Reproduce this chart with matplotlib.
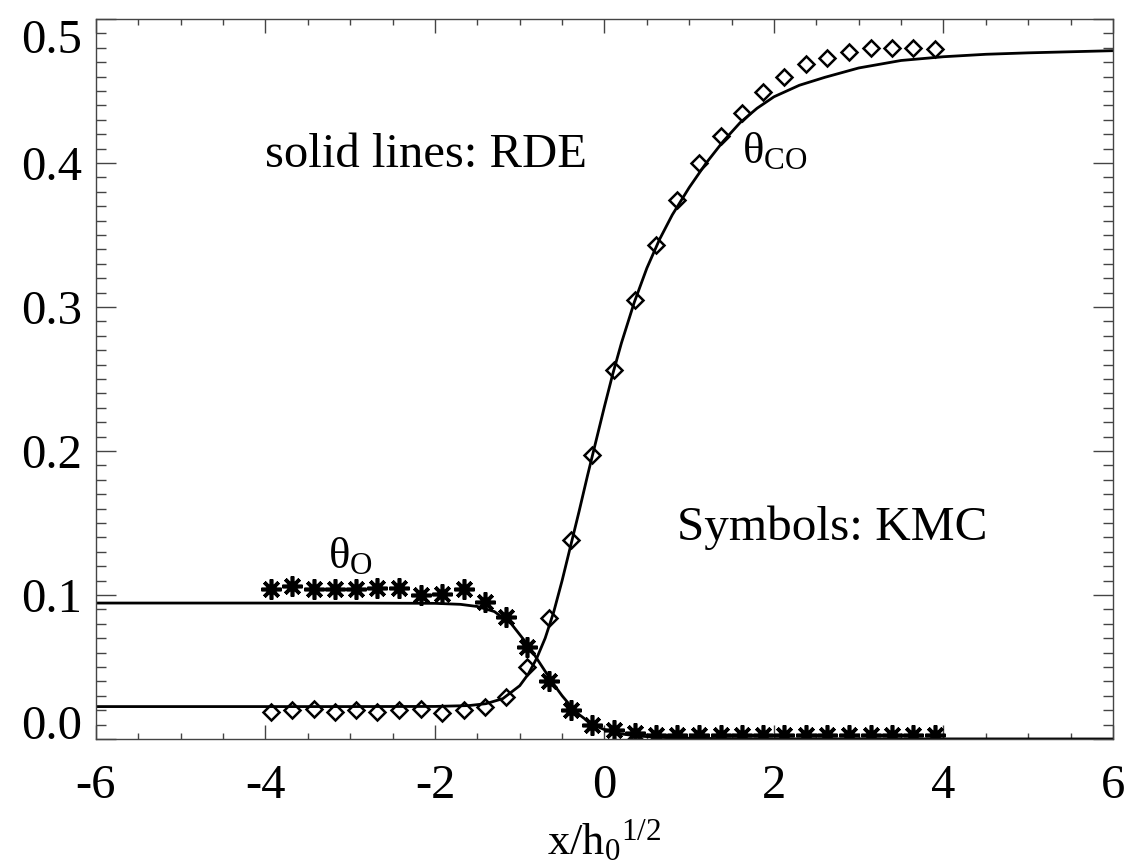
import matplotlib
matplotlib.use('Agg')
import matplotlib.pyplot as plt
from matplotlib.ticker import MultipleLocator

plt.rcParams['font.family'] = ['Liberation Serif', 'DejaVu Serif']
plt.rcParams['mathtext.fontset'] = 'custom'
plt.rcParams['mathtext.rm'] = 'Liberation Serif'
plt.rcParams['mathtext.it'] = 'Liberation Serif'

# KMC symbols
x_kmc = [-3.94, -3.69, -3.43, -3.18, -2.93, -2.68, -2.42, -2.17, -1.92, -1.66,
         -1.41, -1.16, -0.91, -0.65, -0.40, -0.15, 0.11, 0.36, 0.61, 0.86,
         1.11, 1.37, 1.62, 1.87, 2.12, 2.38, 2.63, 2.88, 3.14, 3.39, 3.64, 3.90]
theta_co_kmc = [0.019, 0.020, 0.021, 0.019, 0.020, 0.019, 0.020, 0.021, 0.018, 0.020,
                0.022, 0.029, 0.050, 0.084, 0.138, 0.197, 0.256, 0.305, 0.343, 0.374,
                0.400, 0.419, 0.435, 0.449, 0.460, 0.469, 0.473, 0.477, 0.480, 0.480, 0.480, 0.479]
theta_o_kmc = [0.104, 0.106, 0.104, 0.104, 0.104, 0.105, 0.105, 0.100, 0.101, 0.104,
               0.095, 0.085, 0.064, 0.040, 0.020, 0.010, 0.006, 0.004, 0.003, 0.003,
               0.003, 0.003, 0.003, 0.003, 0.003, 0.003, 0.003, 0.003, 0.003, 0.003, 0.003, 0.003]

# RDE solid lines
x_rde_co = [-6.0, -3.0, -2.0, -1.6, -1.4, -1.2, -1.0, -0.9, -0.8, -0.7, -0.6, -0.5,
            -0.4, -0.3, -0.2, -0.1, 0.0, 0.1, 0.2, 0.35, 0.5, 0.65, 0.8, 1.0, 1.2,
            1.4, 1.6, 1.8, 2.0, 2.3, 2.6, 3.0, 3.5, 4.0, 4.5, 5.0, 6.0]
theta_co_rde = [0.0225, 0.0225, 0.0226, 0.0232, 0.0245, 0.028, 0.037, 0.045, 0.056, 0.070,
                0.088, 0.110, 0.134, 0.158, 0.183, 0.207, 0.231, 0.254, 0.275, 0.303,
                0.327, 0.347, 0.364, 0.383, 0.400, 0.415, 0.428, 0.438, 0.446, 0.454,
                0.4595, 0.466, 0.4712, 0.4738, 0.4755, 0.4765, 0.478]
x_rde_o = [-6.0, -3.0, -2.0, -1.7, -1.5, -1.3, -1.1, -0.9, -0.8, -0.7, -0.6, -0.5,
           -0.4, -0.3, -0.2, -0.1, 0.0, 0.2, 0.4, 0.7, 1.0, 1.5, 2.0, 6.0]
theta_o_rde = [0.0944, 0.0944, 0.0942, 0.0935, 0.092, 0.0885, 0.080, 0.065, 0.056, 0.047,
               0.038, 0.030, 0.023, 0.017, 0.0125, 0.009, 0.0065, 0.0035, 0.002, 0.001,
               0.0005, 0.0002, 0.0001, 0.0]

x_ticks = [-6, -4, -2, 0, 2, 4, 6]
x_tick_labels = ['-6', '-4', '-2', '0', '2', '4', '6']
y_ticks = [0.0, 0.1, 0.2, 0.3, 0.4, 0.5]
y_tick_labels = ['0.0', '0.1', '0.2', '0.3', '0.4', '0.5']

fig = plt.figure(figsize=(11.32, 8.64), dpi=100)
ax = fig.add_axes([0.0848, 0.1447, 0.8984, 0.8333])

ax.plot(x_rde_co, theta_co_rde, color='black', lw=2.0)
ax.plot(x_rde_o, theta_o_rde, color='black', lw=2.0)
ax.plot(x_kmc, theta_co_kmc, ls='none', marker='D', ms=8.5, mfc='none',
        mec='black', mew=1.8)
ax.plot(x_kmc, theta_o_kmc, ls='none', marker=(8, 2, 0), ms=14.5, mec='black', mew=2.6)

ax.set_xlim(-6, 6)
ax.set_ylim(0, 0.5)
ax.set_xticks(x_ticks)
ax.set_xticklabels(x_tick_labels)
ax.set_yticks(y_ticks)
ax.set_yticklabels(y_tick_labels)
ax.xaxis.set_minor_locator(MultipleLocator(0.5))
ax.yaxis.set_minor_locator(MultipleLocator(0.01))

ax.tick_params(which='both', direction='in', top=True, right=True, width=1.0,
               labelsize=35, color='#444444')
ax.tick_params(axis='y', which='major', length=14.4, pad=10)
ax.tick_params(axis='y', which='minor', length=7.2)
ax.tick_params(axis='x', which='major', length=10, pad=18)
ax.tick_params(axis='x', which='minor', length=4.5)
for sp in ax.spines.values():
    sp.set_linewidth(1.0)
    sp.set_color('#444444')

ylabels = ax.get_yticklabels()
ylabels[0].set_va('baseline')
ylabels[-1].set_va('top')

ax.set_xlabel('x/h$_0{}^{1/2}$', fontsize=32, labelpad=7)

ax.text(-4.006, 0.3974, 'solid lines: RDE', fontsize=35)
ax.text(0.855, 0.138, 'Symbols: KMC', fontsize=35.5)
ax.text(1.62, 0.40, r'θ$_{\rm CO}$', fontsize=32)
ax.text(-3.26, 0.119, r'θ$_{\rm O}$', fontsize=32)

fig.savefig('out.png', dpi=100)
